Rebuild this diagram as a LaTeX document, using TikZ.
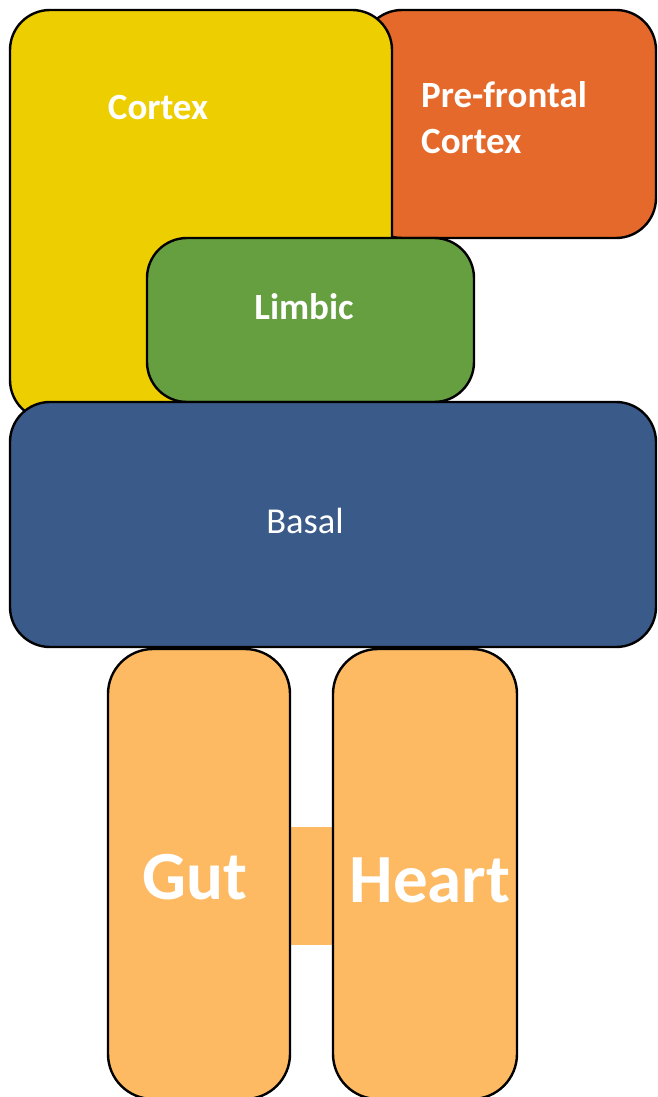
\documentclass[tikz,border=0pt]{standalone}
\usepackage{fontspec}
\setmainfont{Carlito}
\definecolor{cortexyellow}{HTML}{EDCE00}
\definecolor{pfcorange}{HTML}{E5692A}
\definecolor{limbicgreen}{HTML}{669F40}
\definecolor{basalblue}{HTML}{3A5A89}
\definecolor{bodyorange}{HTML}{FDBA63}
\begin{document}
\begin{tikzpicture}[x=1pt,y=-1pt,
  region/.style={draw=black, line width=2.4pt, rounded corners=40pt, inner sep=0pt, outer sep=0pt},
  lbl/.style={text=white, inner sep=0pt, font=\bfseries\fontsize{37}{46}\selectfont},
  lblplain/.style={text=white, inner sep=0pt, font=\fontsize{36.5}{44}\selectfont},
  lblbig/.style={text=white, inner sep=0pt, font=\bfseries\fontsize{69}{80}\selectfont}]
\useasboundingbox (0,0) rectangle (657,1097);
% brain regions, back to front
\node[region, fill=pfcorange, minimum width=294pt, minimum height=228pt] (pfc) at (509,124) {};
\node[region, fill=cortexyellow, minimum width=382pt, minimum height=410pt] (cortex) at (201,215) {};
\node[region, fill=limbicgreen, minimum width=327pt, minimum height=164pt] (limbic) at (310.5,320) {};
\node[region, fill=basalblue, minimum width=646pt, minimum height=245pt] (basal) at (333,524.5) {};
% body organs and the band joining them
\coordinate (bridgetop) at (290,827);
\coordinate (bridgebot) at (333,945);
\fill[bodyorange] (bridgetop) rectangle (bridgebot);
\node[region, rounded corners=45pt, fill=bodyorange, minimum width=182pt, minimum height=450pt] (gut) at (199,874) {};
\node[region, rounded corners=45pt, fill=bodyorange, minimum width=184pt, minimum height=450pt] (heart) at (425,874) {};
% labels
\node[lbl] (cortexlbl) at (158,108) {Cortex};
\node[lbl, align=left, anchor=west] (pfclbl) at (421,118) {Pre-frontal\\Cortex};
\node[lbl] (limbiclbl) at (304,307) {Limbic};
\node[lblplain] (basallbl) at (305,521) {Basal};
\node[lblbig] (gutlbl) at (195,877) {Gut};
\node[lblbig] (heartlbl) at (430,880) {Heart};
\end{tikzpicture}
\end{document}
